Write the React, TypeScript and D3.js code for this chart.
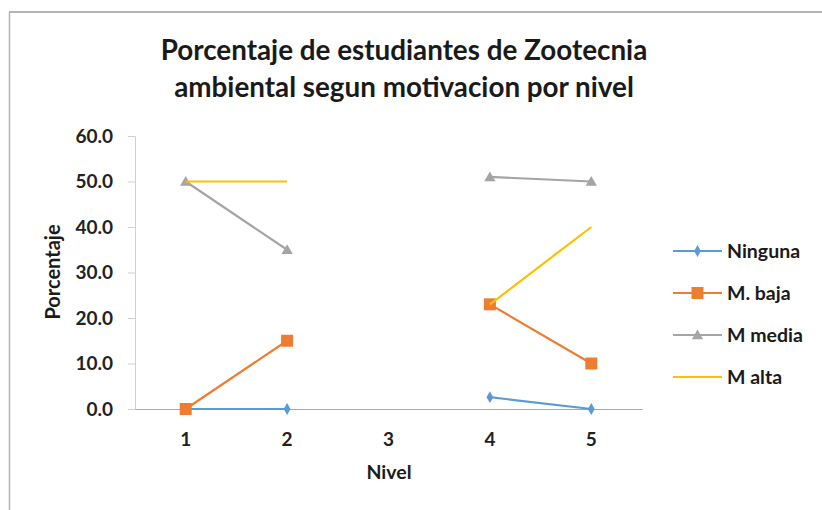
import React, { useEffect, useRef } from "react";
import * as d3 from "d3";

// niveles y series
const niveles = ["1", "2", "3", "4", "5"];
const ninguna = [0, 0, null, 2.6, 0];
const mBaja = [0, 15, null, 23, 10];
const mMedia = [50, 35, null, 51, 50];
const mAlta = [50, 50, null, 23, 40];
const yTicks = [0, 10, 20, 30, 40, 50, 60];

const seriesNames = ["Ninguna", "M. baja", "M media", "M alta"];
const seriesColors = ["#5B9BD5", "#ED7D31", "#A5A5A5", "#FFC000"];
const seriesMarkers = ["diamond", "square", "triangle", "none"];

const App = () => {
  const ref = useRef<SVGSVGElement>(null);

  useEffect(() => {
    const svg = d3.select(ref.current);
    svg.selectAll("*").remove();

    const W = 822;
    const H = 510;
    const font = "Lato, 'Open Sans', sans-serif";

    // frame (only top and left edges show)
    svg.append("line").attr("x1", 9).attr("x2", W).attr("y1", 12).attr("y2", 12)
      .attr("stroke", "#9a9a9a").attr("stroke-width", 1.5);
    svg.append("line").attr("x1", 9.5).attr("x2", 9.5).attr("y1", 12).attr("y2", H)
      .attr("stroke", "#b5b5b5").attr("stroke-width", 1.5);

    // title
    const title = svg.append("text").attr("text-anchor", "middle")
      .attr("font-family", font).attr("font-weight", 700).attr("font-size", 27.8)
      .attr("fill", "#1a1a1a");
    title.append("tspan").attr("x", 404).attr("y", 60).text("Porcentaje de estudiantes de Zootecnia");
    title.append("tspan").attr("x", 404).attr("y", 97).text("ambiental segun motivacion por nivel");

    const x = d3.scaleBand<string>().domain(niveles).range([135, 642]);
    const y = d3.scaleLinear().domain([0, 60]).range([409, 136]);

    // y axis
    const yAxis = svg.append("g").attr("transform", "translate(135,0)")
      .call(d3.axisLeft(y).tickValues(yTicks).tickSize(7).tickPadding(15).tickFormat(d3.format(".1f")));
    yAxis.select(".domain").attr("stroke", "#d0d0d0");
    yAxis.selectAll(".tick line").attr("stroke", "#d0d0d0");
    yAxis.selectAll("text").attr("font-family", font).attr("font-weight", 700)
      .attr("font-size", 19).attr("fill", "#222");

    // x axis
    const xAxis = svg.append("g").attr("transform", "translate(0,409)")
      .call(d3.axisBottom(x).tickSize(0).tickPadding(24));
    xAxis.select(".domain").attr("stroke", "#a8a8a8");
    xAxis.selectAll("text").attr("font-family", font).attr("font-weight", 700)
      .attr("font-size", 19).attr("fill", "#222");

    // axis titles
    svg.append("text").attr("transform", "translate(60,272) rotate(-90)")
      .attr("text-anchor", "middle").attr("font-family", font).attr("font-weight", 700)
      .attr("font-size", 20).attr("fill", "#1a1a1a").text("Porcentaje");
    svg.append("text").attr("x", 389).attr("y", 479).attr("text-anchor", "middle")
      .attr("font-family", font).attr("font-weight", 700).attr("font-size", 19.5)
      .attr("fill", "#1a1a1a").text("Nivel");

    const cx = (i: number) => (x(niveles[i]) as number) + x.bandwidth() / 2;
    const line = d3.line<number | null>()
      .defined((d) => d !== null)
      .x((_, i) => cx(i))
      .y((d) => y(d as number));

    const marker = (g: any, type: string, px: number, py: number, color: string) => {
      if (type === "diamond") {
        g.append("path").attr("d", d3.symbol(d3.symbolDiamond, 40)()).attr("transform", `translate(${px},${py})`)
          .attr("fill", color);
      } else if (type === "square") {
        g.append("rect").attr("x", px - 6).attr("y", py - 6).attr("width", 12).attr("height", 12)
          .attr("fill", color);
      } else if (type === "triangle") {
        g.append("path").attr("d", d3.symbol(d3.symbolTriangle, 55)()).attr("transform", `translate(${px},${py + 1})`)
          .attr("fill", color);
      }
    };

    const all = [ninguna, mBaja, mMedia, mAlta];
    all.forEach((data, s) => {
      const g = svg.append("g");
      g.append("path").attr("d", line(data)).attr("fill", "none")
        .attr("stroke", seriesColors[s]).attr("stroke-width", 2.2).attr("stroke-linejoin", "round");
      data.forEach((d, i) => {
        if (d !== null) marker(g, seriesMarkers[s], cx(i), y(d), seriesColors[s]);
      });
    });

    // legend
    const leg = svg.append("g");
    seriesNames.forEach((name, s) => {
      const ly = 251 + s * 42;
      leg.append("line").attr("x1", 673).attr("x2", 722).attr("y1", ly).attr("y2", ly)
        .attr("stroke", seriesColors[s]).attr("stroke-width", 2.2);
      marker(leg, seriesMarkers[s], 697.5, ly, seriesColors[s]);
      leg.append("text").attr("x", 727).attr("y", ly + 7).attr("font-family", font)
        .attr("font-weight", 700).attr("font-size", 19.5).attr("fill", "#1a1a1a").text(name);
    });
  }, []);

  return (
    <svg ref={ref} width={822} height={510}
      style={{ position: "absolute", left: 0, top: 0, background: "#fff" }} />
  );
};

export default App;
